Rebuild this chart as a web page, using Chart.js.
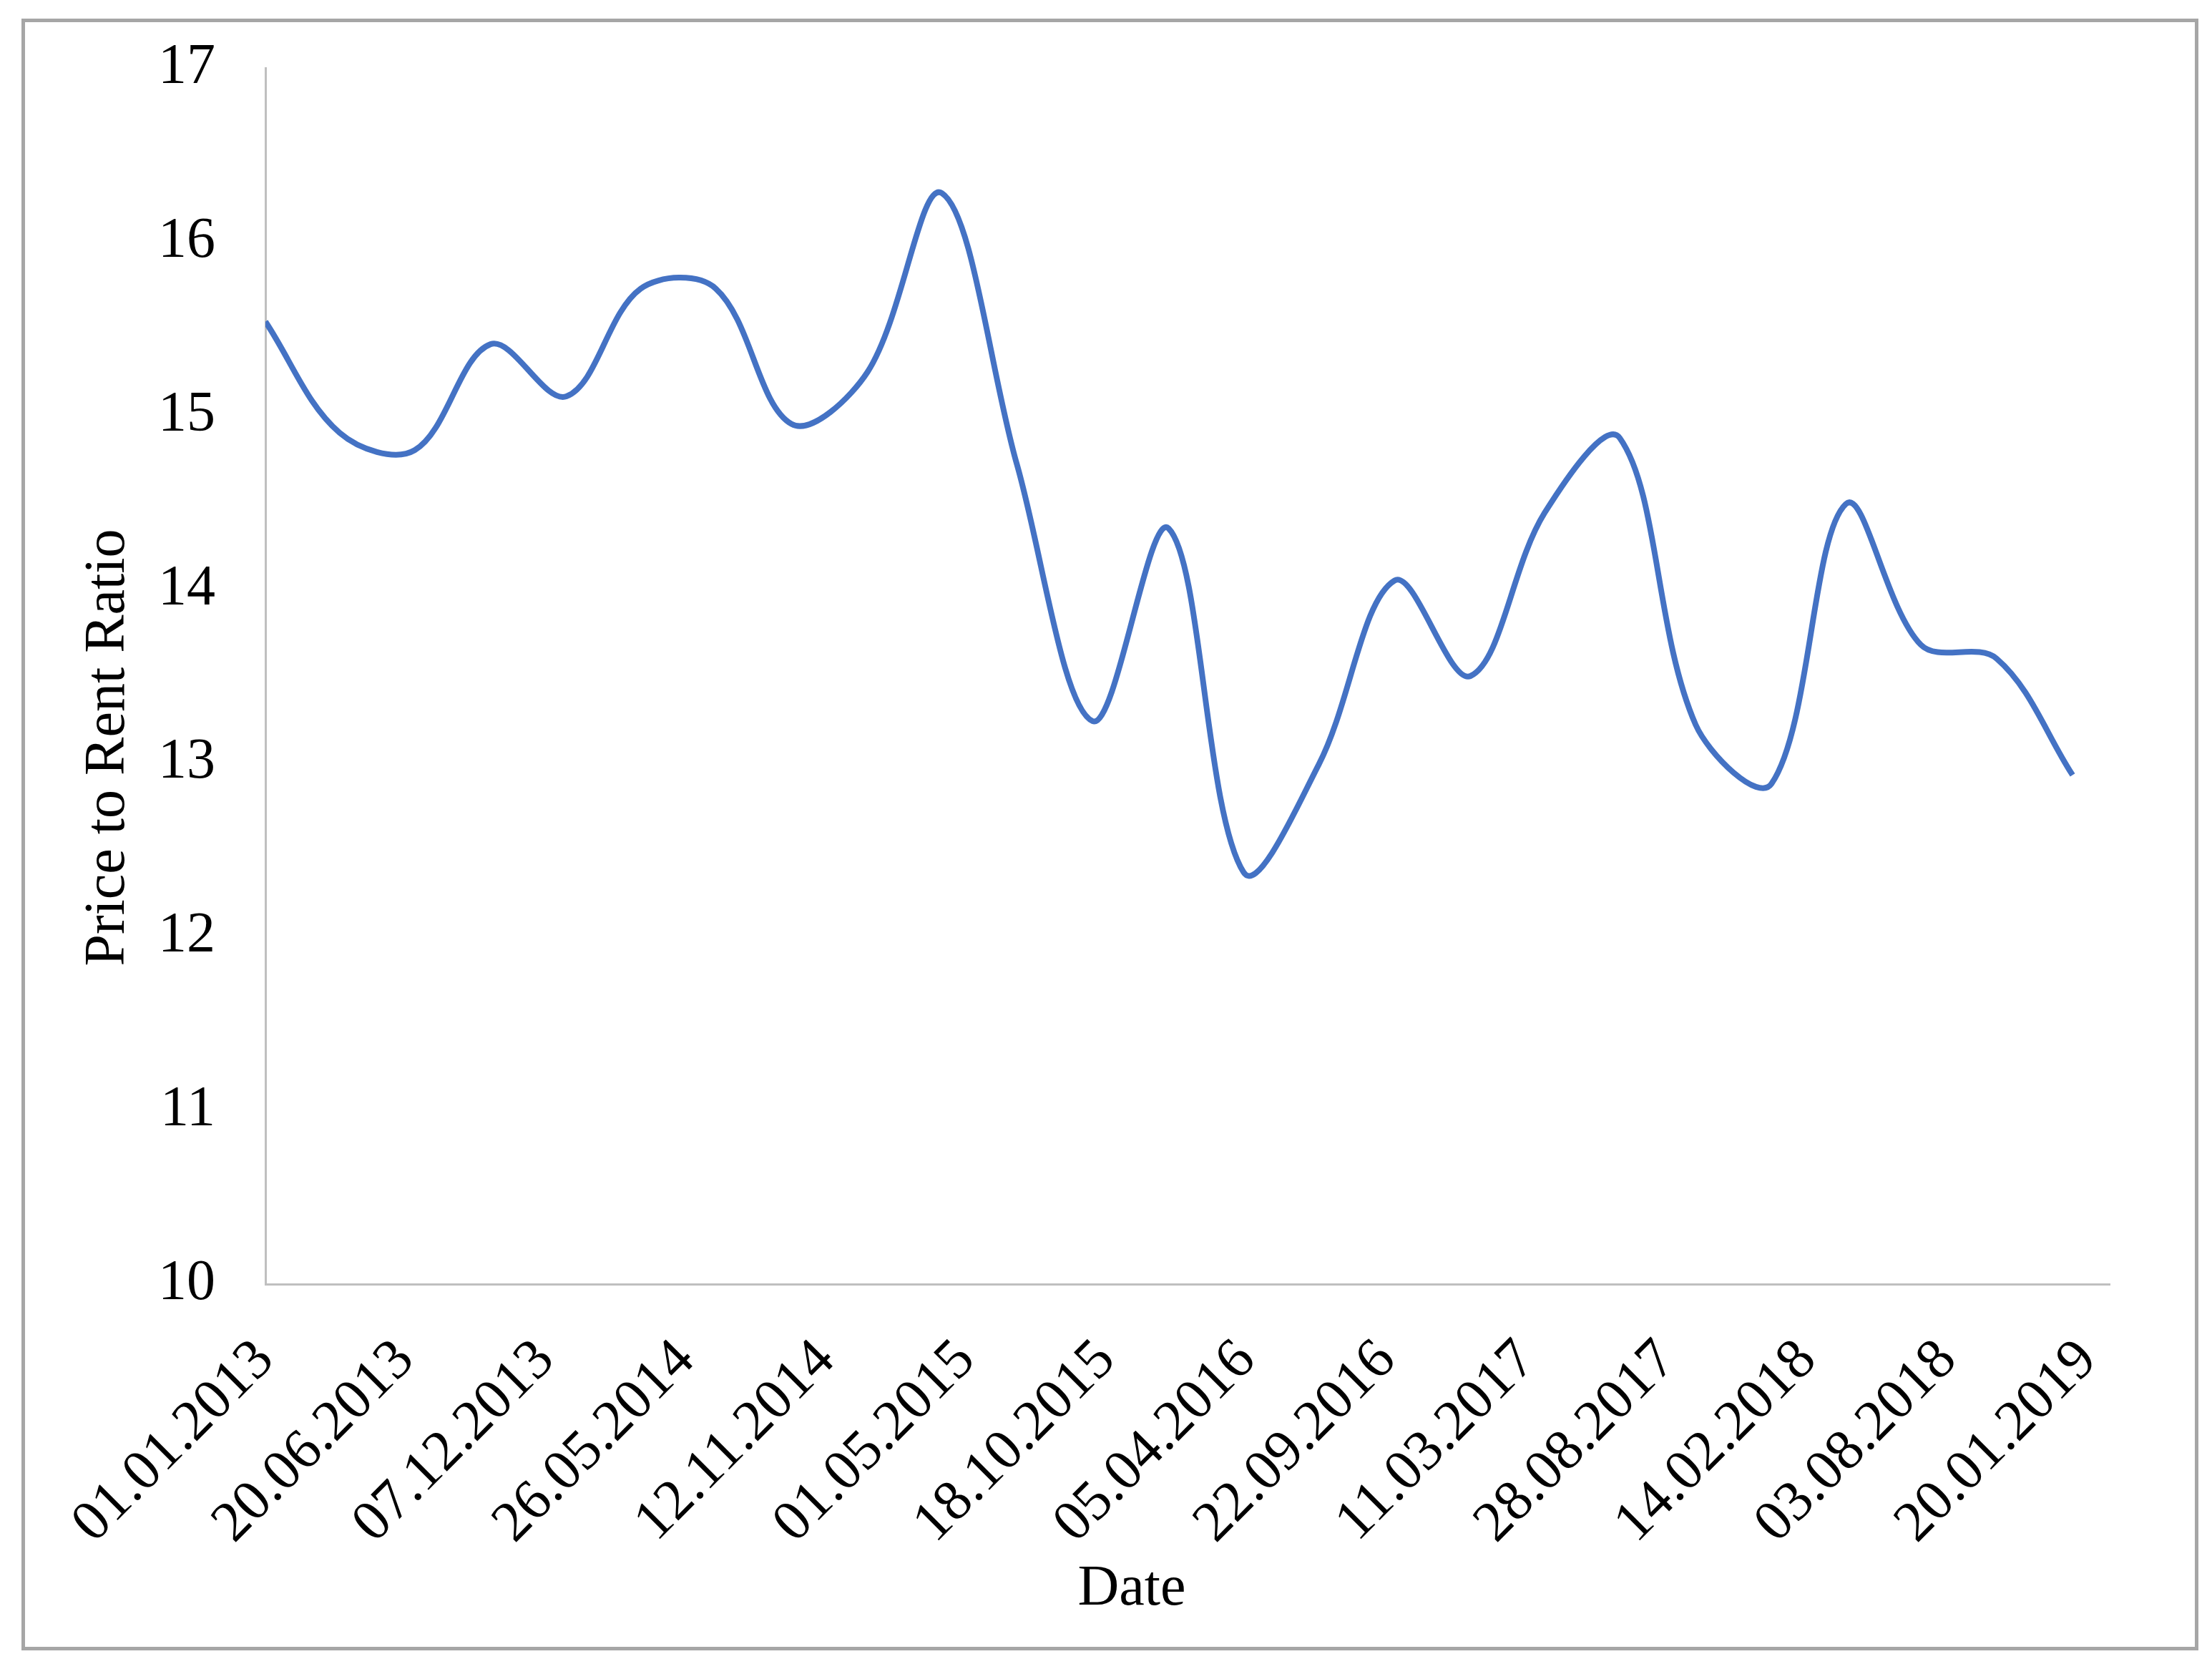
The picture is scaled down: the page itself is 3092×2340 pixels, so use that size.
<!DOCTYPE html>
<html>
<head>
<meta charset="utf-8">
<title>Price to Rent Ratio</title>
<script src="https://cdn.jsdelivr.net/npm/chart.js@4.4.1/dist/chart.umd.min.js"></script>
<style>
  html, body { margin: 0; padding: 0; background: #fff; }
  body { width: 3092px; height: 2340px; position: relative; overflow: hidden; }
  #frame { position: absolute; left: 30px; top: 26px; width: 3043px; height: 2281px; box-sizing: border-box; border: 5px solid #a6a6a6; }
  #ratioChart { position: absolute; left: 0; top: 0; }
</style>
</head>
<body>
<div id="frame"></div>
<canvas id="ratioChart" width="3092" height="2340"></canvas>
<script>
// quarterly observations
var dates = ['2013-01-01', '2013-04-01', '2013-07-01', '2013-10-01',
             '2014-01-01', '2014-04-01', '2014-07-01', '2014-10-01',
             '2015-01-01', '2015-04-01', '2015-07-01', '2015-10-01',
             '2016-01-01', '2016-04-01', '2016-07-01', '2016-10-01',
             '2017-01-01', '2017-04-01', '2017-07-01', '2017-10-01',
             '2018-01-01', '2018-04-01', '2018-07-01', '2018-10-01',
             '2019-01-01'];
var ratio = [15.54, 14.90, 14.80, 15.41,
             15.11, 15.73, 15.73, 14.95,
             15.25, 16.28, 14.72, 13.24,
             14.35, 12.37, 12.99, 14.05,
             13.50, 14.44, 14.87, 13.22,
             12.88, 14.49, 13.68, 13.60,
             12.93];

// axis ticks (dates every 170 days, as on the original)
var tickLabels = ['01.01.2013', '20.06.2013', '07.12.2013', '26.05.2014', '12.11.2014',
                  '01.05.2015', '18.10.2015', '05.04.2016', '22.09.2016', '11.03.2017',
                  '28.08.2017', '14.02.2018', '03.08.2018', '20.01.2019'];
var yTicks = [10, 11, 12, 13, 14, 15, 16, 17];

// days since epoch, so a plain linear axis can work as a date axis
function isoDay(s) {
    var p = s.split('-');
    return Date.UTC(+p[0], +p[1] - 1, +p[2]) / 86400000;
}
function dmyDay(s) {
    var p = s.split('.');
    return Date.UTC(+p[2], +p[1] - 1, +p[0]) / 86400000;
}

var points = dates.map(function (d, i) { return {x: isoDay(d), y: ratio[i]}; });
var tickDays = tickLabels.map(dmyDay);

var fontFamily = "'Liberation Serif', 'Times New Roman', serif";
Chart.defaults.font.family = fontFamily;
Chart.defaults.font.size = 80;
Chart.defaults.color = '#000';

// axis titles sit a little off-centre in the original, so draw them here
var axisTitles = {
    id: 'axisTitles',
    afterDraw: function (chart) {
        var c = chart.ctx, area = chart.chartArea;
        c.save();
        c.font = '80px ' + fontFamily;
        c.fillStyle = '#000';
        c.textAlign = 'center';
        c.textBaseline = 'middle';
        c.fillText('Date', area.left + 1211, 2222);
        c.translate(152, area.top + 950);
        c.rotate(-Math.PI / 2);
        c.fillText('Price to Rent Ratio', 0, 0);
        c.restore();
    }
};

var ctx = document.getElementById('ratioChart').getContext('2d');
var chart = new Chart(ctx, {
    type: 'line',
    data: {
        datasets: [{
            label: 'Price to Rent Ratio',
            data: points,
            borderColor: '#4472c4',
            borderWidth: 8,
            pointRadius: 0,
            fill: false,
            tension: 0.35
        }]
    },
    options: {
        responsive: false,
        devicePixelRatio: 1,
        animation: false,
        layout: {
            padding: {left: 0, top: 95, right: 143, bottom: 0}
        },
        plugins: {
            legend: {display: false},
            tooltip: {enabled: false}
        },
        scales: {
            x: {
                type: 'linear',
                position: 'bottom',
                min: dmyDay('01.01.2013'),
                max: dmyDay('15.02.2019'),
                afterBuildTicks: function (scale) {
                    scale.ticks = tickDays.map(function (v) { return {value: v}; });
                },
                afterFit: function (scale) { scale.height = 545; },
                ticks: {
                    autoSkip: false,
                    minRotation: 45,
                    maxRotation: 45,
                    padding: 60,
                    callback: function (value, index) { return tickLabels[index]; }
                },
                grid: {display: false, drawTicks: false},
                border: {display: true, color: '#bfbfbf', width: 3}
            },
            y: {
                min: yTicks[0],
                max: yTicks[yTicks.length - 1],
                afterBuildTicks: function (scale) {
                    scale.ticks = yTicks.map(function (v) { return {value: v}; });
                },
                afterFit: function (scale) {
                    scale.width = 371;
                    scale.paddingTop = 0;
                    scale.paddingBottom = 0;
                },
                ticks: {padding: 70},
                grid: {display: false, drawTicks: false},
                border: {display: true, color: '#bfbfbf', width: 3}
            }
        }
    },
    plugins: [axisTitles]
});
</script>
</body>
</html>
